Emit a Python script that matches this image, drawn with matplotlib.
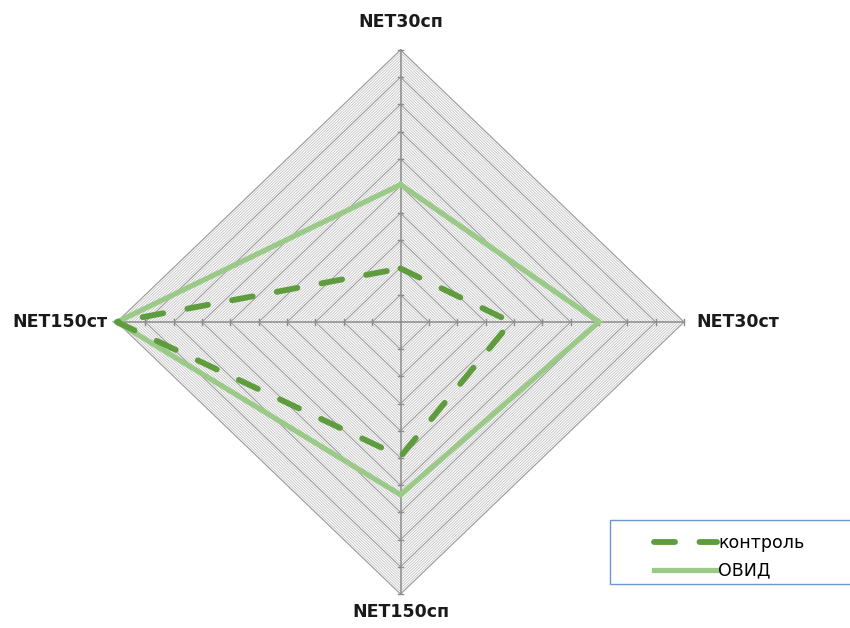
import numpy as np
import matplotlib.pyplot as plt
from matplotlib.patches import Rectangle

# ===== データ =====
categories = ["NET30сп", "NET30ст", "NET150сп", "NET150ст"]
control = [1.97, 3.9, 4.95, 10.0]
ovid = [5.05, 7.0, 6.35, 10.0]
r_max = 10
major_step = 1.0
minor_step = 0.1

# 角度 (上から時計回り)
angles = np.pi / 2 - np.arange(len(categories)) * 2 * np.pi / len(categories)


def to_xy(values):
    v = np.asarray(values, dtype=float)
    x = v * np.cos(angles)
    y = v * np.sin(angles)
    return np.append(x, x[0]), np.append(y, y[0])


# ===== グラフ描画 =====
fig = plt.figure(figsize=(8.5, 6.28), dpi=100)
ax = fig.add_axes([0, 0, 1, 1])
px_x, px_y = 28.35, 27.2  # 1単位あたりのピクセル
ax.set_xlim(-400.5 / px_x, 449.5 / px_x)
ax.set_ylim(-306 / px_y, 322 / px_y)
ax.axis("off")

# 細かいグリッド
for r in np.arange(minor_step, r_max, minor_step):
    if abs(r / major_step - round(r / major_step)) < 1e-6:
        continue
    gx, gy = to_xy([r] * len(categories))
    ax.plot(gx, gy, color="#c4c4c4", lw=0.6, zorder=1)

# 主グリッド
for r in np.arange(major_step, r_max + 0.01, major_step):
    gx, gy = to_xy([r] * len(categories))
    ax.plot(gx, gy, color="#9e9e9e", lw=0.9, zorder=2)

# 軸線と目盛り
tick_len = 0.1
for a in angles:
    ax.plot([0, r_max * np.cos(a)], [0, r_max * np.sin(a)], color="#8c8c8c", lw=1.1, zorder=3)
    for r in np.arange(major_step, r_max + 0.01, major_step):
        cx, cy = r * np.cos(a), r * np.sin(a)
        nx, ny = -np.sin(a), np.cos(a)
        ax.plot([cx - nx * tick_len, cx + nx * tick_len], [cy - ny * tick_len, cy + ny * tick_len],
                color="#8c8c8c", lw=1.0, zorder=3)

# 系列
ox, oy = to_xy(ovid)
ax.plot(ox, oy, color="#9bca88", lw=3.8, solid_joinstyle="miter", zorder=5, label="ОВИД")
cx_, cy_ = to_xy(control)
ax.plot(cx_, cy_, color="#5e9c3e", lw=4.2, dash_capstyle="round", dashes=(3.6, 4.2), zorder=6,
        label="контроль")

# カテゴリラベル
label_font = dict(fontsize=12.5, fontweight="bold", color="#1a1a1a", family="DejaVu Sans")
ax.annotate(categories[0], (0, r_max), xytext=(0, 20), textcoords="offset points",
            ha="center", va="center", **label_font)
ax.annotate(categories[1], (r_max, 0), xytext=(9, 0), textcoords="offset points",
            ha="left", va="center", **label_font)
ax.annotate(categories[2], (0, -r_max), xytext=(0, -13), textcoords="offset points",
            ha="center", va="center", **label_font)
ax.annotate(categories[3], (-r_max, 0), xytext=(-7, 0), textcoords="offset points",
            ha="right", va="center", **label_font)

# 凡例
fig.patches.append(Rectangle((610 / 850, 1 - 584 / 628), 0.3, 64 / 628, transform=fig.transFigure,
                             facecolor="white", edgecolor="#6d97cf", lw=1.0, zorder=10))
handles, labels = ax.get_legend_handles_labels()
leg = fig.legend(handles[::-1], labels[::-1], loc="upper left",
                 bbox_to_anchor=(642 / 850, 1 - 522 / 628),
                 fontsize=12.5, handlelength=3.6, handletextpad=0.1, borderpad=0.2,
                 labelspacing=0.55, frameon=False, prop={"family": "DejaVu Sans", "size": 12.5})
leg.set_zorder(11)

fig.savefig("out.png", dpi=100)
